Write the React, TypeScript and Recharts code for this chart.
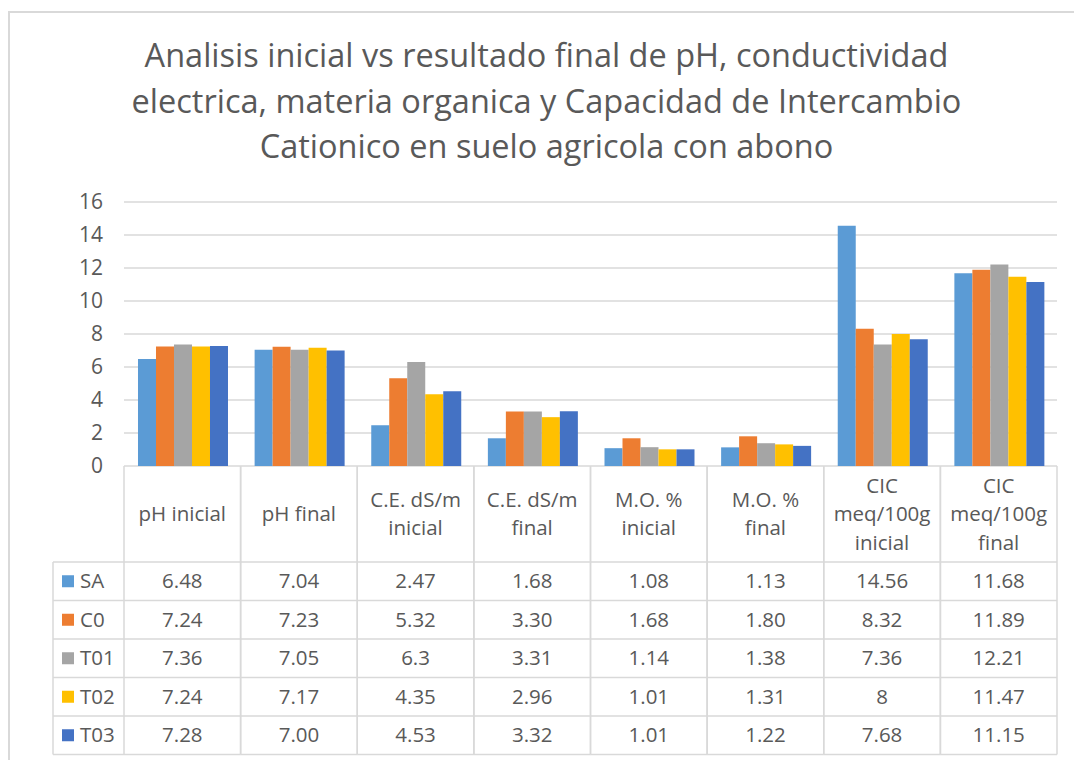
import React from "react";
import { BarChart, Bar, XAxis, YAxis, CartesianGrid } from "recharts";

const categories = [
  "pH inicial",
  "pH final",
  "C.E. dS/m inicial",
  "C.E. dS/m final",
  "M.O. % inicial",
  "M.O. % final",
  "CIC meq/100g inicial",
  "CIC meq/100g final",
];
const headerLines = [
  ["pH inicial"],
  ["pH final"],
  ["C.E. dS/m", "inicial"],
  ["C.E. dS/m", "final"],
  ["M.O. %", "inicial"],
  ["M.O. %", "final"],
  ["CIC", "meq/100g", "inicial"],
  ["CIC", "meq/100g", "final"],
];
const seriesNames = ["SA", "C0", "T01", "T02", "T03"];
const seriesColors = ["#5B9BD5", "#ED7D31", "#A5A5A5", "#FFC000", "#4472C4"];
const saValues = ["6.48", "7.04", "2.47", "1.68", "1.08", "1.13", "14.56", "11.68"];
const c0Values = ["7.24", "7.23", "5.32", "3.30", "1.68", "1.80", "8.32", "11.89"];
const t01Values = ["7.36", "7.05", "6.3", "3.31", "1.14", "1.38", "7.36", "12.21"];
const t02Values = ["7.24", "7.17", "4.35", "2.96", "1.01", "1.31", "8", "11.47"];
const t03Values = ["7.28", "7.00", "4.53", "3.32", "1.01", "1.22", "7.68", "11.15"];
const yTicks = [0, 2, 4, 6, 8, 10, 12, 14, 16];
const titleLines = [
  "Analisis inicial vs resultado final de pH, conductividad",
  "electrica, materia organica y Capacidad de Intercambio",
  "Cationico en suelo agricola con abono",
];

const seriesValues = [saValues, c0Values, t01Values, t02Values, t03Values];

const data = categories.map((c, i) => {
  const row: Record<string, any> = { name: c };
  seriesNames.forEach((s, k) => {
    row[s] = parseFloat(seriesValues[k][i]);
  });
  return row;
});

const FONT = "'Open Sans', sans-serif";
const TEXT = "#595959";
const LINE = "#D9D9D9";
const W = 1074;
const H = 760;
const PLOT_LEFT = 124;
const PLOT_RIGHT = 1057;
const PLOT_TOP = 202;
const PLOT_BOTTOM = 466;
const Y_AXIS_W = 60;
const HEADER_H = 96;
const ROW_H = 38.5;
const LEGEND_LEFT = 53;

function TableTick(props: any) {
  const { x, y, payload } = props;
  const i = payload.index;
  const bw = (PLOT_RIGHT - PLOT_LEFT) / categories.length;
  const left = x - bw / 2;
  const right = x + bw / 2;
  const lines = headerLines[i];
  const lh = 28.5;
  const hc = y + HEADER_H / 2;
  const tableBottom = y + HEADER_H + ROW_H * seriesNames.length;
  const els: any[] = [];
  lines.forEach((t, k) => {
    const cy = hc + (k - (lines.length - 1) / 2) * lh;
    els.push(
      <text key={"h" + k} x={x} y={cy} dy="0.35em" textAnchor="middle" fill={TEXT} fontSize={20.5} fontFamily={FONT}>
        {t}
      </text>
    );
  });
  els.push(<line key="vl" x1={left} x2={left} y1={y} y2={tableBottom} stroke={LINE} strokeWidth={1.5} />);
  els.push(<line key="vr" x1={right} x2={right} y1={y} y2={tableBottom} stroke={LINE} strokeWidth={1.5} />);
  for (let r = 0; r <= seriesNames.length; r++) {
    const ly = y + HEADER_H + r * ROW_H;
    const lx1 = i === 0 ? LEGEND_LEFT : left;
    els.push(<line key={"hl" + r} x1={lx1} x2={right} y1={ly} y2={ly} stroke={LINE} strokeWidth={1.5} />);
  }
  seriesNames.forEach((s, r) => {
    const cy = y + HEADER_H + r * ROW_H + ROW_H / 2;
    els.push(
      <text key={"v" + r} x={x} y={cy} dy="0.35em" textAnchor="middle" fill={TEXT} fontSize={20.5} fontFamily={FONT}>
        {seriesValues[r][i]}
      </text>
    );
    if (i === 0) {
      els.push(
        <rect key={"lg" + r} x={LEGEND_LEFT + 9} y={cy - 6} width={12} height={12} fill={seriesColors[r]} />
      );
      els.push(
        <text key={"lt" + r} x={LEGEND_LEFT + 27} y={cy} dy="0.35em" textAnchor="start" fill={TEXT} fontSize={20.5} fontFamily={FONT}>
          {s}
        </text>
      );
    }
  });
  if (i === 0) {
    els.push(
      <line key="legl" x1={LEGEND_LEFT} x2={LEGEND_LEFT} y1={y + HEADER_H} y2={tableBottom} stroke={LINE} strokeWidth={1.5} />
    );
  }
  return <g>{els}</g>;
}

export default function App() {
  return (
    <div
      style={{
        position: "absolute",
        left: 0,
        top: 0,
        width: W,
        height: H,
        background: "#fff",
        fontFamily: FONT,
        overflow: "hidden",
      }}
    >
      <div
        style={{
          position: "absolute",
          left: 8,
          top: 11,
          width: W,
          height: H,
          borderLeft: "2px solid #D9D9D9",
          borderTop: "2px solid #D9D9D9",
        }}
      />
      <div
        style={{
          position: "absolute",
          left: 46,
          top: 32,
          width: 1001,
          textAlign: "center",
          fontSize: 32.5,
          lineHeight: "45.5px",
          color: TEXT,
          fontFamily: FONT,
        }}
      >
        {titleLines.map((t, k) => (
          <div key={k}>{t}</div>
        ))}
      </div>
      <div style={{ position: "absolute", left: 0, top: 0 }}>
        <BarChart
          width={W}
          height={H}
          data={data}
          margin={{
            top: PLOT_TOP,
            left: PLOT_LEFT - Y_AXIS_W,
            right: W - PLOT_RIGHT,
            bottom: H - PLOT_BOTTOM - 1,
          }}
          barCategoryGap="12%"
          barGap={0}
        >
          <CartesianGrid vertical={false} stroke={LINE} strokeWidth={1.5} />
          <YAxis
            width={Y_AXIS_W}
            domain={[0, 16]}
            ticks={yTicks}
            axisLine={false}
            tickLine={false}
            tickSize={0}
            tickMargin={21}
            interval={0}
            tick={{ fill: TEXT, fontSize: 21, fontFamily: FONT }}
          />
          <XAxis
            dataKey="name"
            height={1}
            axisLine={false}
            tickLine={false}
            tickSize={0}
            tickMargin={0}
            interval={0}
            tick={<TableTick />}
          />
          {seriesNames.map((s, k) => (
            <Bar key={s} dataKey={s} fill={seriesColors[k]} isAnimationActive={false} />
          ))}
        </BarChart>
      </div>
    </div>
  );
}
